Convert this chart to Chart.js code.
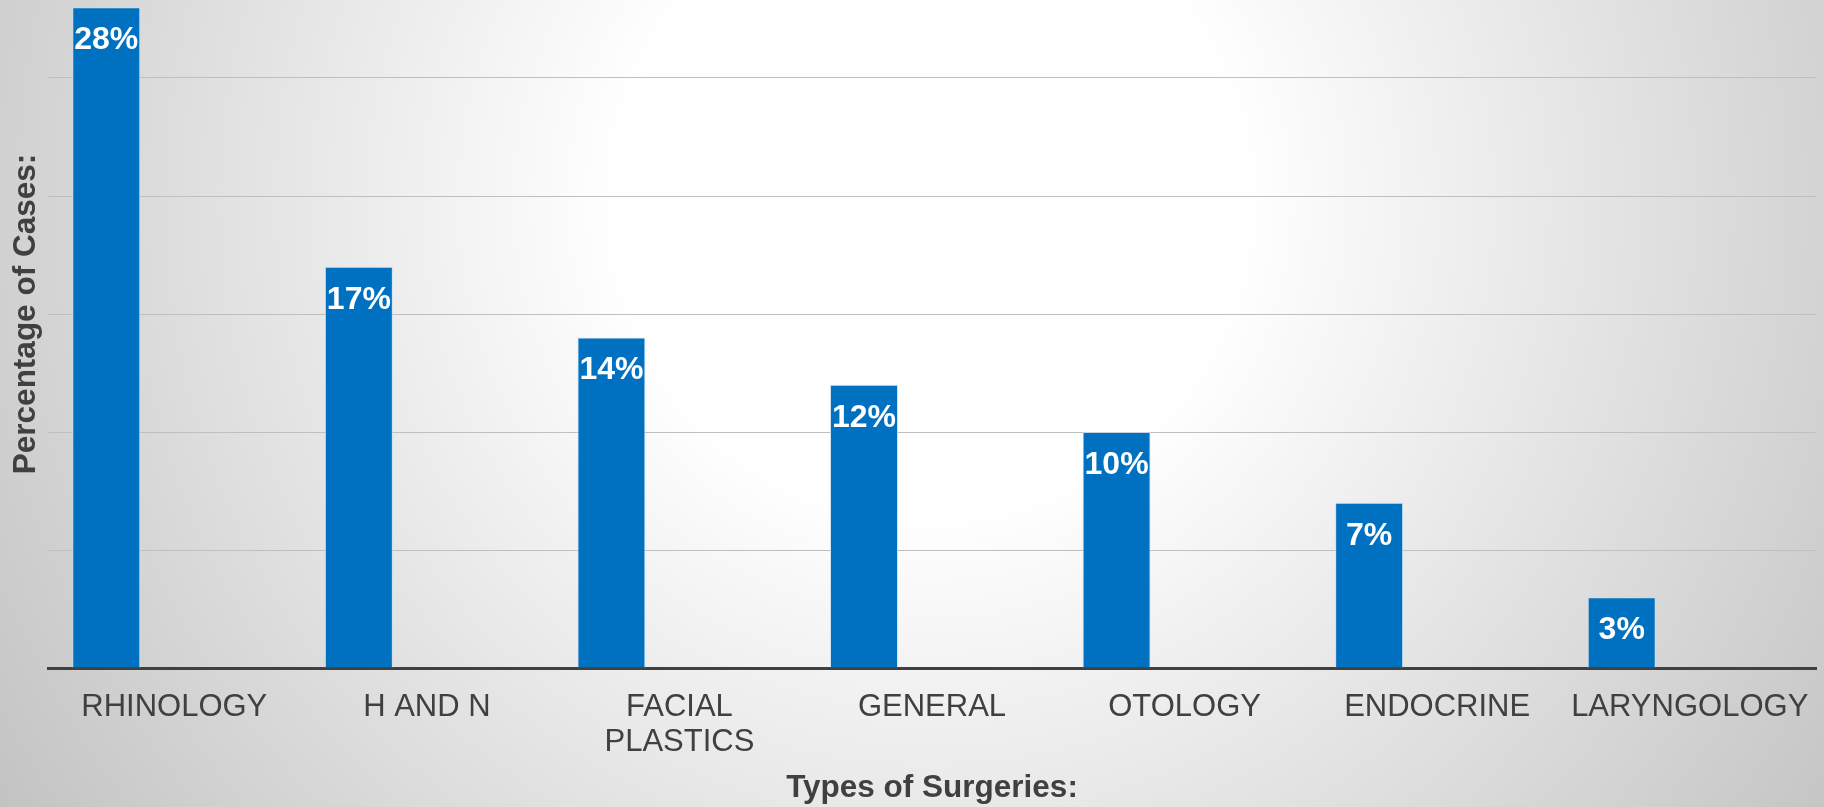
<!DOCTYPE html>
<html>
<head>
<meta charset="utf-8">
<script src="https://cdn.jsdelivr.net/npm/chart.js@4.4.0/dist/chart.umd.min.js"></script>
<style>
    html, body {
        margin: 0;
        padding: 0;
        width: 1824px;
        height: 807px;
        overflow: hidden;
        background: radial-gradient(circle farthest-corner at 930px 200px, #ffffff 0%, #ffffff 28%, #c3c3c3 100%);
    }
    /* plot area runs up to 30%, which sits above the top edge of the picture */
    .wrap {
        position: absolute;
        left: 0;
        top: -48px;
        width: 1824px;
        height: 855px;
    }
</style>
</head>
<body>
<div class="wrap"><canvas id="surgeries"></canvas></div>
<script>
// data
const categories = ['RHINOLOGY', 'H AND N', ['FACIAL', 'PLASTICS'], 'GENERAL', 'OTOLOGY', 'ENDOCRINE', 'LARYNGOLOGY'];
const percentCases = [28, 17, 14, 12, 10, 7, 3];
const yTicks = [0, 5, 10, 15, 20, 25, 30];

var ctx = document.querySelector('#surgeries');
const FONT = "'Liberation Sans', Arial, sans-serif";

// white % labels inside the top of each bar
const barLabels = {
    id: 'barLabels',
    afterDatasetsDraw(chart) {
        const c = chart.ctx;
        const meta = chart.getDatasetMeta(0);
        c.save();
        c.fillStyle = '#ffffff';
        c.font = 'bold 32px ' + FONT;
        c.textAlign = 'center';
        c.textBaseline = 'middle';
        meta.data.forEach(function (bar, i) {
            c.fillText(percentCases[i] + '%', bar.x, bar.y + 33);
        });
        c.restore();
    }
};

var data_x = {
    labels: categories,
    datasets: [{
        label: 'Series 1',
        data: percentCases,
        backgroundColor: '#0070c0',
        borderColor: 'rgba(200,220,240,0.8)',
        borderWidth: 1
    }, {
        // empty series from the original sheet, they keep the bar slot on the left
        label: 'Series 2',
        data: []
    }, {
        label: 'Series 3',
        data: []
    }]
};

var config_x = {
    type: 'bar',
    data: data_x,
    options: {
        responsive: true,
        maintainAspectRatio: false,
        animation: false,
        categoryPercentage: 0.8077,
        barPercentage: 1,
        layout: {
            padding: { top: 8, right: 8, left: 0, bottom: 0 }
        },
        plugins: {
            legend: { display: false },
            tooltip: { enabled: false }
        },
        scales: {
            x: {
                grid: { display: false, drawTicks: false },
                border: { display: true, color: '#404040', width: 3 },
                ticks: {
                    color: '#404040',
                    font: { family: FONT, size: 31, lineHeight: 1.13 },
                    padding: 22,
                    maxRotation: 0,
                    autoSkip: false
                },
                title: {
                    display: true,
                    text: 'Types of Surgeries:',
                    color: '#404040',
                    font: { family: FONT, size: 31.5, weight: 'bold' },
                    padding: { top: 3, bottom: 0 }
                },
                afterFit: function (scale) {
                    scale.height = 139;
                    // no extra room for the long last label
                    scale.paddingLeft = 0;
                    scale.paddingRight = 0;
                }
            },
            y: {
                min: 0,
                max: 30,
                afterBuildTicks: function (scale) {
                    scale.ticks = yTicks.map(v => ({ value: v }));
                },
                ticks: { display: false },
                grid: { color: '#bfbfbf', lineWidth: 1, drawTicks: false },
                border: { display: false },
                title: {
                    display: true,
                    text: 'Percentage of Cases:',
                    color: '#404040',
                    font: { family: FONT, size: 31.5, weight: 'bold' },
                    padding: { top: 7, bottom: 0 }
                },
                afterFit: function (scale) {
                    scale.width = 48;
                    scale.paddingTop = 0;
                    scale.paddingBottom = 0;
                }
            }
        }
    },
    plugins: [barLabels]
};

new Chart(ctx, config_x);
</script>
</body>
</html>
